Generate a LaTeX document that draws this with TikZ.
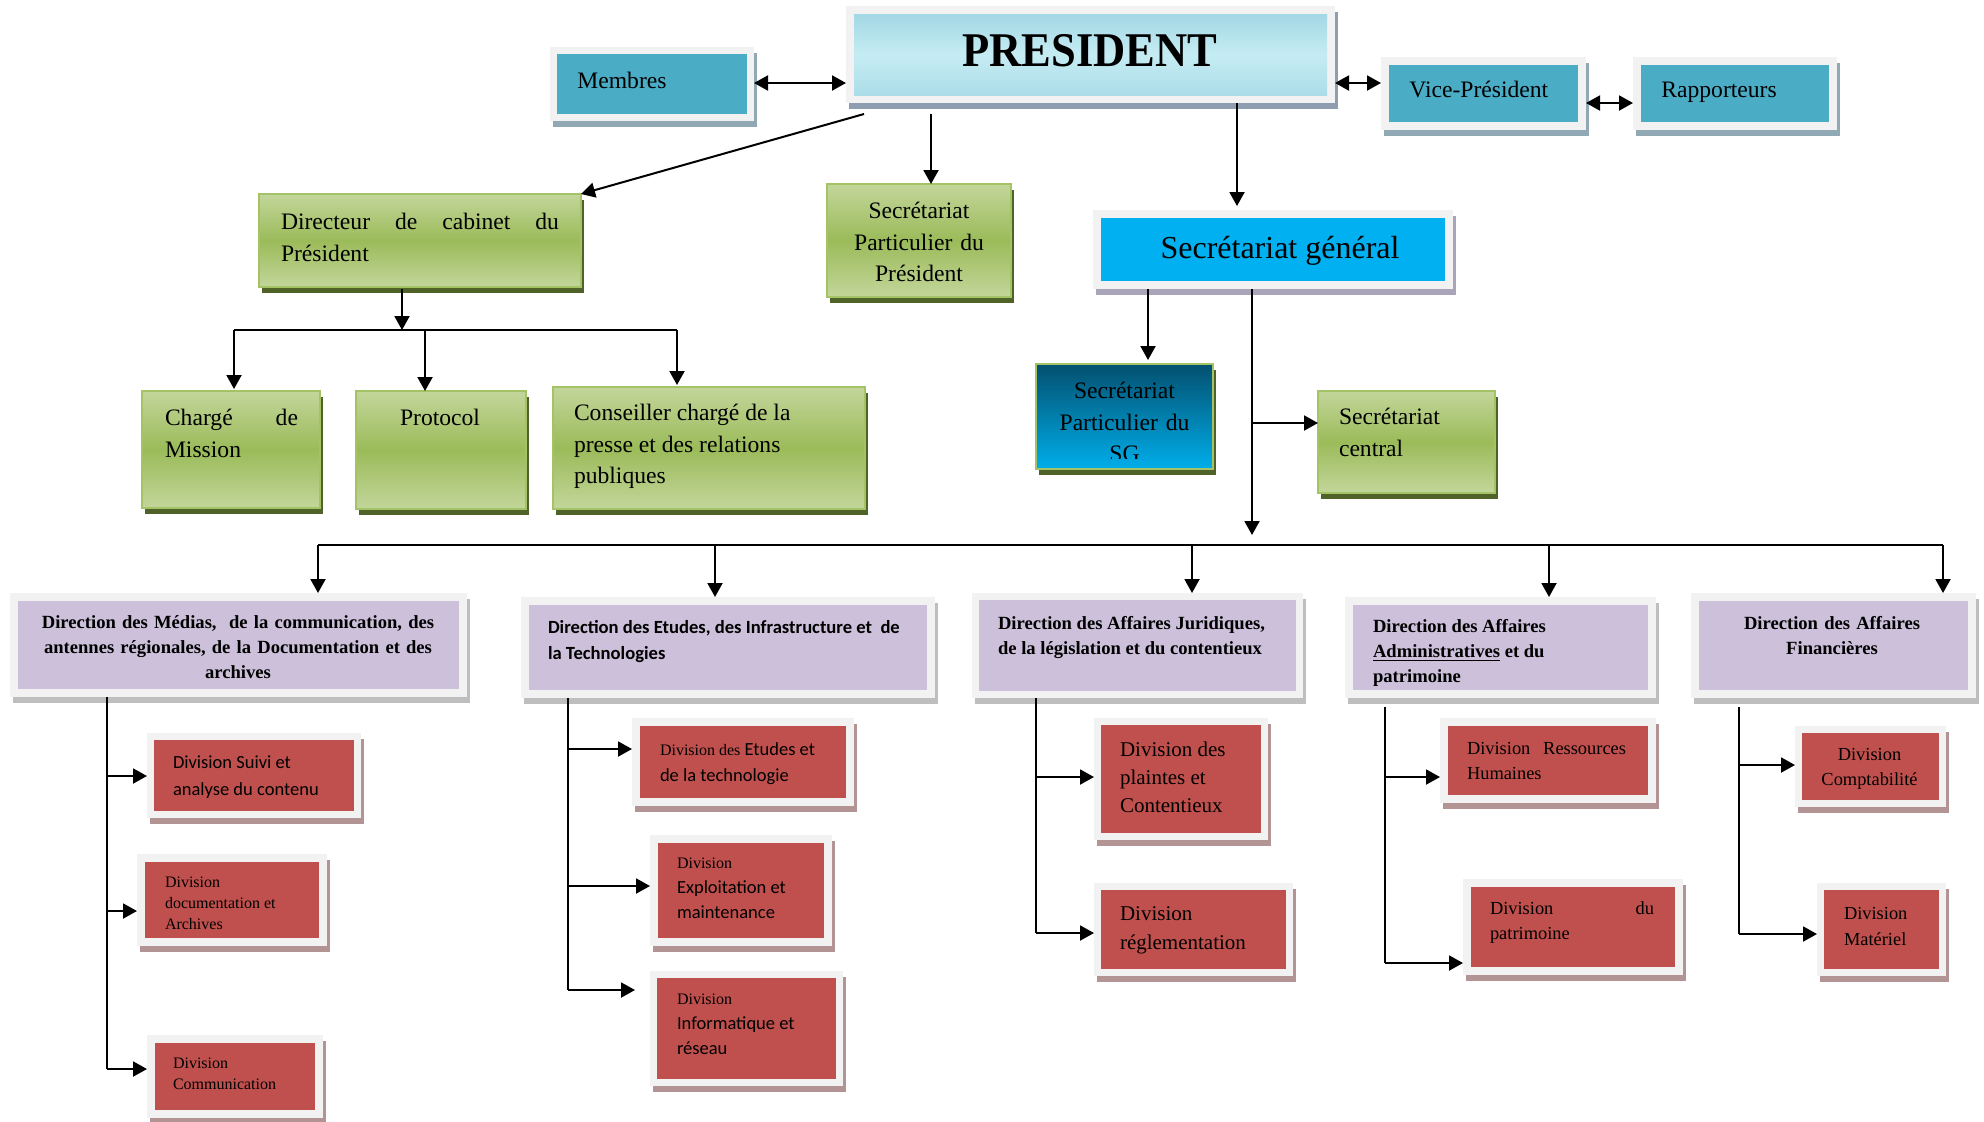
\documentclass[tikz,border=0pt]{standalone}
\usepackage{fontspec}
\setmainfont{Liberation Serif}
\newfontfamily\calib{Carlito}
\usetikzlibrary{arrows.meta,calc}
\tolerance=10000
\hbadness=10000
\hyphenpenalty=10000
\exhyphenpenalty=10000
\definecolor{framegray}{HTML}{F2F2F2}
\definecolor{aqua}{HTML}{4BACC6}
\definecolor{aquashadow}{HTML}{91A9B5}
\definecolor{presshadow}{HTML}{8E9DAF}
\definecolor{pt1}{HTML}{A2D8E4}
\definecolor{pt2}{HTML}{ABDDE8}
\definecolor{pt3}{HTML}{C6ECF3}
\definecolor{sgblue}{HTML}{00B0F0}
\definecolor{sgshadow}{HTML}{A9A4B7}
\definecolor{lavender}{HTML}{CCC0DA}
\definecolor{dirshadow}{HTML}{BEBEBE}
\definecolor{divred}{HTML}{C0504D}
\definecolor{redshadow}{HTML}{B29494}
\definecolor{glight}{HTML}{C3D69B}
\definecolor{gmid}{HTML}{9BBB59}
\definecolor{gborder}{HTML}{A4C266}
\definecolor{gshadow}{HTML}{4F6228}
\definecolor{spdark}{HTML}{03506F}
\definecolor{spbright}{HTML}{00AEEA}
\tikzset{
  arr/.style={line width=1pt,-{Triangle[length=7pt,width=7.5pt]}},
  darr/.style={line width=1pt,{Triangle[length=7pt,width=7.5pt]}-{Triangle[length=7pt,width=7.5pt]}},
  ln/.style={line width=1pt},
  framebox/.style={rectangle,fill=framegray,inner sep=0,outer sep=0},
  greenbox/.style={rectangle,inner sep=0,outer sep=0,draw=gborder,line width=1pt,
    top color=glight,bottom color=glight,middle color=gmid},
  bluebox/.style={rectangle,inner sep=0,outer sep=0,draw=gborder,line width=1pt,
    top color=spdark,bottom color=spbright},
  txt/.style={inner sep=0,outer sep=0,anchor=north west},
}
% framed box: name, x1, y1, x2, y2, inset, inner style, shadow colour
\newcommand\frbox[8]{%
  \fill[#8] (#2+3,#3+6) rectangle (#4+3,#5+6);
  \node[framebox,minimum width={(#4-#2)*0.5pt},minimum height={(#5-#3)*0.5pt}] (#1) at ({(#2+#4)/2},{(#3+#5)/2}) {};
  \path[#7] (#2+#6,#3+#6) rectangle (#4-#6,#5-#6);
}
% gradient box: name, x1, y1, x2, y2, style
\newcommand\gbox[6]{%
  \fill[gshadow] (#2+3,#3+6) rectangle (#4+3,#5+6);
  \node[#6,minimum width={(#4-#2)*0.5pt},minimum height={(#5-#3)*0.5pt}] (#1) at ({(#2+#4)/2},{(#3+#5)/2}) {};
}
% text: name, x, y of first line centre, size, baselineskip, font, options, text
\newcommand\tx[8]{%
  \node[txt,#7,font={#6\fontsize{#4pt}{#5pt}\selectfont\hyphenpenalty=10000 }] (#1) at (#2,{#3+0.66*#4-1.4*#5}) {\strut#8};
}
\begin{document}
\begin{tikzpicture}[x=0.5pt,y=-0.5pt]
\fill[white] (0,0) rectangle (1984,1121);
\useasboundingbox (0,0) rectangle (1984,1121);

% ---------- top row ----------
\frbox{president}{846}{6}{1335}{103}{8}{top color=pt1,bottom color=pt2,middle color=pt3}{presshadow}
\frbox{membres}{550}{47}{754}{121}{7}{fill=aqua}{aquashadow}
\frbox{vice}{1381}{57}{1586}{130}{8}{fill=aqua}{aquashadow}
\frbox{rapp}{1633}{57}{1837}{130}{8}{fill=aqua}{aquashadow}

\node[inner sep=0,font=\bfseries\fontsize{24.2pt}{29pt}\selectfont] (ptext) at (1090,51) {\scalebox{0.92}[1]{PRESIDENT}};
\node[inner sep=0,anchor=base west,font=\fontsize{11.8pt}{15.6pt}\selectfont] (tmem) at (577,88) {Membres};
\node[inner sep=0,anchor=base west,font=\fontsize{11.8pt}{15.6pt}\selectfont] (tvice) at (1409,97) {Vice-Président};
\node[inner sep=0,anchor=base west,font=\fontsize{11.8pt}{15.6pt}\selectfont] (trapp) at (1661,97) {Rapporteurs};

% ---------- second level ----------
\gbox{dircab}{259}{194}{581}{287}{greenbox}
\gbox{spp}{827}{184}{1011}{297}{greenbox}
\frbox{sg}{1093}{210}{1453}{289}{8}{fill=sgblue}{sgshadow}
\node[inner sep=0,anchor=base,font=\fontsize{16pt}{20pt}\selectfont] (tsg) at (1280,258) {Secrétariat général};

\tx{tdir}{281}{222}{11.8}{15.6}{}{text width=139pt,align=justify}{Directeur de cabinet du Président}
\tx{tspp}{827}{211}{11.8}{15.6}{}{text width=92pt,align=center}{Secrétariat\\Particulier du\\Président}

% ---------- third level ----------
\gbox{charge}{142}{391}{320}{508}{greenbox}
\gbox{proto}{356}{391}{526}{509}{greenbox}
\gbox{conseil}{553}{387}{865}{509}{greenbox}
\gbox{spsg}{1036}{364}{1213}{469}{bluebox}
\gbox{scentral}{1318}{391}{1495}{493}{greenbox}

\tx{tcharge}{165}{418}{11.8}{15.6}{}{text width=66.5pt,align=justify}{Chargé de Mission}
\node[inner sep=0,anchor=base,font=\fontsize{11.8pt}{15.6pt}\selectfont] (tproto) at (440,425) {Protocol};
\tx{tcons}{574}{413}{11.8}{15.6}{}{align=left}{Conseiller chargé de la\\presse et des relations\\publiques}
\begin{scope}
\clip (1036,364) rectangle (1213,458);
\tx{tspsg}{1036}{391}{11.8}{15.6}{}{text width=88.5pt,align=center}{Secrétariat\\Particulier du\\SG}
\end{scope}
\tx{tscen}{1339}{417}{11.8}{15.6}{}{align=left}{Secrétariat\\central}

% ---------- directions ----------
\frbox{dmed}{10}{593}{467}{697}{8}{fill=lavender}{dirshadow}
\frbox{detu}{521}{597}{935}{698}{8}{fill=lavender}{dirshadow}
\frbox{djur}{972}{593}{1303}{698}{7}{fill=lavender}{dirshadow}
\frbox{dadm}{1345}{597}{1656}{698}{8}{fill=lavender}{dirshadow}
\frbox{dfin}{1691}{593}{1976}{698}{8}{fill=lavender}{dirshadow}

\tx{tdmed}{18}{622}{9.3}{12.5}{\bfseries}{text width=220pt,align=center}{Direction des Médias,\ \ de la communication, des\\antennes régionales, de la Documentation et des\\archives}
\tx{tdetu}{548}{627}{9.3}{13}{\calib\bfseries}{align=left}{Direction des Etudes, des Infrastructure et\ \ de\\la Technologies}
\tx{tdjur}{998}{623}{9.3}{12.5}{\bfseries}{align=left}{Direction des Affaires Juridiques,\\de la législation et du contentieux}
\begin{scope}
\clip (1353,605) rectangle (1647,690);
\tx{tdadm}{1373}{626}{9.3}{12.5}{\bfseries}{align=left}{Direction des Affaires\\\underline{Administratives} et du\\patrimoine}
\end{scope}
\tx{tdfin}{1698}{623}{9.3}{12.5}{\bfseries}{text width=134pt,align=center}{Direction des Affaires\\Financières}

% ---------- divisions ----------
\frbox{dsuivi}{147}{733}{361}{818}{7}{fill=divred}{redshadow}
\frbox{ddoc}{137}{854}{327}{946}{8}{fill=divred}{redshadow}
\frbox{dcomm}{147}{1035}{323}{1118}{8}{fill=divred}{redshadow}
\frbox{deti}{632}{718}{854}{806}{8}{fill=divred}{redshadow}
\frbox{dexp}{650}{835}{832}{946}{8}{fill=divred}{redshadow}
\frbox{dinf}{650}{971}{843}{1086}{7}{fill=divred}{redshadow}
\frbox{dpla}{1094}{718}{1268}{840}{7}{fill=divred}{redshadow}
\frbox{dreg}{1094}{883}{1293}{976}{7}{fill=divred}{redshadow}
\frbox{drh}{1440}{718}{1656}{803}{8}{fill=divred}{redshadow}
\frbox{dpat}{1463}{879}{1683}{975}{8}{fill=divred}{redshadow}
\frbox{dcpt}{1795}{726}{1946}{807}{7}{fill=divred}{redshadow}
\frbox{dmat}{1817}{883}{1946}{976}{7}{fill=divred}{redshadow}

\tx{tsuivi}{173}{762}{9.25}{13.5}{\calib}{align=left}{Division Suivi et\\analyse du contenu}
\begin{scope}
\clip (145,862) rectangle (319,929);
\tx{tdoc}{165}{882}{8}{10.5}{}{align=left}{Division\\documentation et\\Archives}
\end{scope}
\tx{tcomm}{173}{1063}{8}{10.5}{}{align=left}{Division\\Communication}
\tx{teti}{660}{749}{9.25}{13}{\calib}{align=left}{{\rmfamily\fontsize{8pt}{13pt}\selectfont Division des} Etudes et\\de la technologie}
\tx{texp}{677}{862}{9.25}{12.5}{\calib}{align=left}{{\rmfamily\fontsize{8pt}{12.5pt}\selectfont Division}\\Exploitation et\\maintenance}
\tx{tinf}{677}{998}{9.25}{12.5}{\calib}{align=left}{{\rmfamily\fontsize{8pt}{12.5pt}\selectfont Division}\\Informatique et\\réseau}
\tx{tpla}{1120}{750}{10.5}{14}{}{align=left}{Division des\\plaintes et\\Contentieux}
\tx{treg}{1120}{914}{10.5}{14.5}{}{align=left}{Division\\réglementation}
\tx{trh}{1467}{748}{9.2}{12.5}{}{text width=79.5pt,align=justify}{Division Ressources Humaines}
\tx{tpat}{1490}{908}{9.2}{12.5}{}{text width=82pt,align=justify}{Division du patrimoine}
\tx{tcpt}{1801}{754}{9.2}{12.5}{}{text width=68.5pt,align=center}{Division\\Comptabilité}
\tx{tmat}{1844}{913}{9.2}{13}{}{align=left}{Division\\Matériel}

% ---------- connectors ----------
\coordinate (yA) at (0,83);
\coordinate (yB) at (0,103);
\draw[darr] (membres.east |- yA) -- (president.west |- yA);
\draw[darr] (president.east |- yA) -- (vice.west |- yA);
\draw[darr] (vice.east |- yB) -- (rapp.west |- yB);

\path ($(president.south west)+(18,11)$) coordinate (ps1)
      ($(president.south west)+(85,11)$) coordinate (ps2)
      ($(president.south west)+(391,0)$) coordinate (ps3);
\draw[arr] (ps1) -- (dircab.north east);
\draw[arr] (ps2) -- (ps2 |- spp.north);
\draw[arr,shorten >=2pt] (ps3) -- (ps3 |- sg.north);

\path ($(dircab.south west)+(143,2)$) coordinate (dcs);
\coordinate (b1) at (234,330);
\coordinate (b3) at (425,330);
\coordinate (b2) at (677,330);
\draw[arr] (dcs) -- (dcs |- b1);
\draw[ln] (b1) -- (b2);
\draw[arr,shorten >=1pt] (b1) -- (b1 |- charge.north);
\draw[arr] (b3) -- (b3 |- proto.north);
\draw[arr,shorten >=1pt] (b2) -- (b2 |- conseil.north);

\path ($(sg.south west)+(55,0)$) coordinate (sgl)
      ($(sg.south west)+(159,0)$) coordinate (sgm);
\coordinate (bus) at (0,545);
\draw[arr,shorten >=2pt] (sgl) -- (sgl |- spsg.north);
\draw[arr,shorten >=5pt] (sgm) -- (sgm |- bus);
\coordinate (br) at (1252,423);
\draw[arr] (br) -- (br -| scentral.west);

\coordinate (m1) at (318,545);
\coordinate (m2) at (715,545);
\coordinate (m3) at (1192,545);
\coordinate (m4) at (1549,545);
\coordinate (m5) at (1943,545);
\draw[ln] (m1) -- (m5);
\draw[arr] (m1) -- (m1 |- dmed.north);
\draw[arr] (m2) -- (m2 |- detu.north);
\draw[arr] (m3) -- (m3 |- djur.north);
\draw[arr] (m4) -- (m4 |- dadm.north);
\draw[arr] (m5) -- (m5 |- dfin.north);

% Medias column
\path ($(dmed.south west)+(97,0)$) coordinate (cm0);
\coordinate (cm1) at (107,776);
\coordinate (cm2) at (107,911);
\coordinate (cm3) at (107,1069);
\draw[ln] (cm0) -- (cm3);
\draw[arr] (cm1) -- (cm1 -| dsuivi.west);
\draw[arr] (cm2) -- (cm2 -| ddoc.west);
\draw[arr] (cm3) -- (cm3 -| dcomm.west);

% Etudes column
\path ($(detu.south west)+(47,0)$) coordinate (ce0);
\coordinate (ce1) at (568,749);
\coordinate (ce2) at (568,886);
\coordinate (ce3) at (568,990);
\draw[ln] (ce0) -- (ce3);
\draw[arr] (ce1) -- (ce1 -| deti.west);
\draw[arr] (ce2) -- (ce2 -| dexp.west);
\draw[arr,shorten >=7.5pt] (ce3) -- (ce3 -| dinf.west);

% Juridiques column
\path ($(djur.south west)+(64,0)$) coordinate (cj0);
\coordinate (cj1) at (1036,777);
\coordinate (cj2) at (1036,933);
\draw[ln] (cj0) -- (cj2);
\draw[arr] (cj1) -- (cj1 -| dpla.west);
\draw[arr] (cj2) -- (cj2 -| dreg.west);

% Administratives column
\path ($(dadm.south west)+(40,9)$) coordinate (ca0);
\coordinate (ca1) at (1385,777);
\coordinate (ca2) at (1385,963);
\draw[ln] (ca0) -- (ca2);
\draw[arr] (ca1) -- (ca1 -| drh.west);
\draw[arr] (ca2) -- (ca2 -| dpat.west);

% Financieres column
\path ($(dfin.south west)+(48,9)$) coordinate (cf0);
\coordinate (cf1) at (1739,765);
\coordinate (cf2) at (1739,934);
\draw[ln] (cf0) -- (cf2);
\draw[arr] (cf1) -- (cf1 -| dcpt.west);
\draw[arr] (cf2) -- (cf2 -| dmat.west);
\end{tikzpicture}
\end{document}
